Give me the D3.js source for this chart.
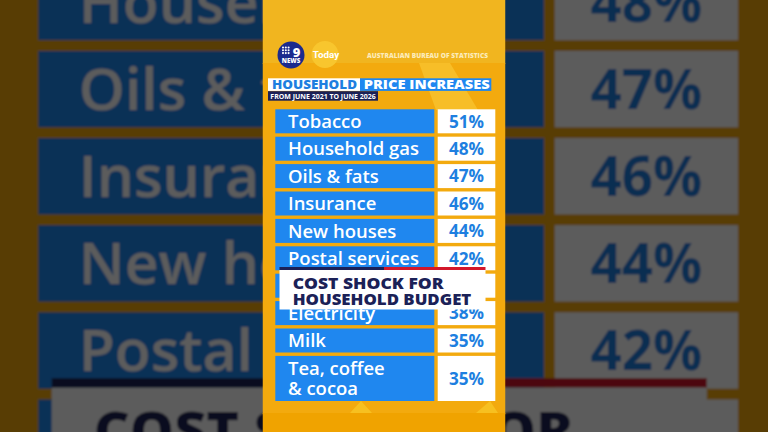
<!DOCTYPE html>
<html>
<head>
<meta charset="utf-8">
<script src="https://cdn.jsdelivr.net/npm/d3@7"></script>
<style>
  html, body { margin: 0; padding: 0; background: #000; overflow: hidden; }
  svg { display: block; }
</style>
</head>
<body>
<svg id="chart" width="768" height="432"></svg>
<script>
// Chart data
const categories = [
    "Tobacco",
    "Household gas",
    "Oils & fats",
    "Insurance",
    "New houses",
    "Postal services",
    "Rents",            // row hidden behind the banner
    "Electricity",
    "Milk",
    "Tea, coffee\n& cocoa"
]
const values = [51, 48, 47, 46, 44, 42, 40, 38, 35, 35]

const titleParts = ["HOUSEHOLD", "PRICE INCREASES"]
const subtitle = "FROM JUNE 2021 TO JUNE 2026"
const source = "AUSTRALIAN BUREAU OF STATISTICS"
const bannerLines = ["COST SHOCK FOR", "HOUSEHOLD BUDGET"]

// Layout
const W = 768, H = 432
const panelX0 = 262.5, panelX1 = 505.5
const zoomK = 3.18
const blue = "#1f87ef"
const valueBlue = "#1e7fe0"
const navy = "#1b2157"
const font = "'Open Sans', 'DejaVu Sans', sans-serif"

const rows = categories.map((c, i) => ({ lines: c.split("\n"), value: values[i] }))
let acc = 0
rows.forEach(r => {
    r.start = acc
    r.units = 1 + 0.77 * (r.lines.length - 1)
    acc += r.units
})
const rowPitch = 27.4, rowGap = 3.4
const yScale = d3.scaleLinear()
    .domain([0, acc])
    .range([109.3, 109.3 + acc * rowPitch])

const svg = d3.select('#chart')
const defs = svg.append('defs')
defs.append('clipPath').attr('id', 'panelClip')
    .append('rect')
    .attr('x', panelX0).attr('y', 0)
    .attr('width', panelX1 - panelX0).attr('height', H)
defs.append('filter').attr('id', 'soft')
    .append('feGaussianBlur').attr('stdDeviation', 0.35)

// size the row labels so the widest one fits like the original
const probe = svg.append('text')
    .attr('font-family', font).attr('font-size', 18).attr('font-weight', 600)
    .text("Household gas")
const labelSize = 18 * 131 / probe.node().getComputedTextLength()
probe.remove()

function drawPanel(g) {
    // background pieces
    g.append('rect').attr('x', panelX0).attr('y', 0)
        .attr('width', panelX1 - panelX0).attr('height', 64).attr('fill', '#f1b51f')
    g.append('rect').attr('x', panelX0).attr('y', 63)
        .attr('width', panelX1 - panelX0).attr('height', 351).attr('fill', '#f3aa0e')
    g.append('rect').attr('x', panelX0).attr('y', 413)
        .attr('width', panelX1 - panelX0).attr('height', 19).attr('fill', '#f0a300')
    g.append('polygon')
        .attr('points', '419,63 450,63 478,110 436,110')
        .attr('fill', '#f7be28')
    g.append('polygon')
        .attr('points', '350,413 361,401 372,413')
        .attr('fill', '#f7c020')
    g.append('polygon')
        .attr('points', '476,413 490,401 498,413')
        .attr('fill', '#f7c020')

    // 9NEWS logo
    g.append('circle').attr('cx', 291).attr('cy', 55).attr('r', 13.5).attr('fill', '#1b2a8e')
    const dots = d3.range(9).map(i => ({ c: i % 3, r: Math.floor(i / 3) }))
    g.selectAll(null).data(dots).enter().append('circle')
        .attr('cx', d => 283 + d.c * 2.8)
        .attr('cy', d => 47.5 + d.r * 2.8)
        .attr('r', 1.05).attr('fill', '#fff')
    g.append('text').attr('x', 296.5).attr('y', 56.5)
        .attr('font-family', font).attr('font-weight', 800).attr('font-size', 13)
        .attr('text-anchor', 'middle').attr('fill', '#fff').text('9')
    g.append('text').attr('x', 291).attr('y', 63)
        .attr('font-family', font).attr('font-weight', 800).attr('font-size', 6.2)
        .attr('text-anchor', 'middle').attr('fill', '#fff').text('NEWS')

    // Today logo
    g.append('circle').attr('cx', 325).attr('cy', 54.5).attr('r', 13.5).attr('fill', '#f8c62e')
    g.append('text').attr('x', 312.7).attr('y', 57.7)
        .attr('font-family', "'Roboto', sans-serif").attr('font-weight', 700)
        .attr('font-size', 9.5).attr('fill', '#fff')
        .attr('textLength', 26.5).attr('lengthAdjust', 'spacingAndGlyphs')
        .text('Today')

    g.append('text').attr('x', 367).attr('y', 57.5)
        .attr('font-family', font).attr('font-weight', 800).attr('font-size', 6)
        .attr('fill', '#fcebb8')
        .attr('textLength', 121).attr('lengthAdjust', 'spacingAndGlyphs')
        .text(source)

    // title
    g.append('rect').attr('x', 268).attr('y', 78.3).attr('width', 92).attr('height', 12.6).attr('fill', '#fff')
    g.append('rect').attr('x', 360).attr('y', 78.3).attr('width', 131.3).attr('height', 12.6).attr('fill', blue)
    g.append('text').attr('x', 272).attr('y', 89.4)
        .attr('font-family', font).attr('font-weight', 800).attr('font-size', 12.8)
        .attr('fill', valueBlue)
        .attr('textLength', 85).attr('lengthAdjust', 'spacingAndGlyphs')
        .text(titleParts[0])
    g.append('text').attr('x', 363.7).attr('y', 89.4)
        .attr('font-family', font).attr('font-weight', 800).attr('font-size', 12.8)
        .attr('fill', '#fff')
        .attr('textLength', 126).attr('lengthAdjust', 'spacingAndGlyphs')
        .text(titleParts[1])
    g.append('rect').attr('x', 268).attr('y', 91.2).attr('width', 110).attr('height', 9.5).attr('fill', navy)
    g.append('text').attr('x', 270.3).attr('y', 98.6)
        .attr('font-family', font).attr('font-weight', 700).attr('font-size', 6.8)
        .attr('fill', '#fff')
        .attr('textLength', 105.5).attr('lengthAdjust', 'spacingAndGlyphs')
        .text(subtitle)

    // rows
    const row = g.append('g').selectAll('g')
        .data(rows)
        .enter()
        .append('g')
    row.append('rect')
        .attr('x', 275.3)
        .attr('y', d => yScale(d.start))
        .attr('width', 159)
        .attr('height', d => yScale(d.start + d.units) - yScale(d.start) - rowGap)
        .attr('fill', blue)
    row.append('rect')
        .attr('x', 437.7)
        .attr('y', d => yScale(d.start))
        .attr('width', 57.6)
        .attr('height', d => yScale(d.start + d.units) - yScale(d.start) - rowGap)
        .attr('fill', '#fff')
    const mid = d => (yScale(d.start) + yScale(d.start + d.units) - rowGap) / 2
    row.each(function (d) {
        const c = mid(d)
        d3.select(this).selectAll('text.lbl')
            .data(d.lines)
            .enter()
            .append('text')
            .attr('class', 'lbl')
            .attr('x', 288)
            .attr('y', (t, j) => c + (j - (d.lines.length - 1) / 2) * 20 + 6.6)
            .attr('font-family', font).attr('font-weight', 600)
            .attr('font-size', labelSize)
            .attr('fill', '#fff')
            .text(t => t)
    })
    row.append('text')
        .attr('x', 466.5)
        .attr('y', d => mid(d) + 6.2)
        .attr('text-anchor', 'middle')
        .attr('font-family', font).attr('font-weight', 700).attr('font-size', 17.2)
        .attr('fill', valueBlue)
        .text(d => d.value + '%')

    // banner
    g.append('rect').attr('x', 279.5).attr('y', 267).attr('width', 104.5).attr('height', 3).attr('fill', navy)
    g.append('rect').attr('x', 384).attr('y', 267).attr('width', 101.5).attr('height', 3).attr('fill', '#d3172a')
    g.append('rect').attr('x', 279.5).attr('y', 270).attr('width', 206).attr('height', 39.5).attr('fill', '#fff')
    const bannerW = [151, 178.6]
    g.selectAll(null).data(bannerLines).enter().append('text')
        .attr('x', 292.7)
        .attr('y', (d, i) => 289.3 + i * 15.7)
        .attr('font-family', font).attr('font-weight', 800).attr('font-size', 16.4)
        .attr('fill', navy)
        .attr('textLength', (d, i) => bannerW[i]).attr('lengthAdjust', 'spacingAndGlyphs')
        .text(d => d)
}

// enlarged, darkened copy behind the portrait frame
const back = svg.append('g')
    .attr('transform', `translate(${W / 2},${H / 2}) scale(${zoomK}) translate(${-W / 2},${-H / 2})`)
    .attr('filter', 'url(#soft)')
drawPanel(back)
svg.append('rect').attr('width', W).attr('height', H).attr('fill', '#000').attr('opacity', 0.64)

// sharp portrait frame
const front = svg.append('g').attr('clip-path', 'url(#panelClip)')
drawPanel(front)
</script>
</body>
</html>
